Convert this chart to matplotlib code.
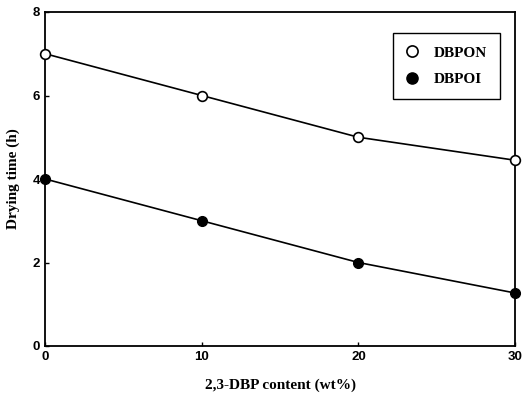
import matplotlib.pyplot as plt

# data
content = [0, 10, 20, 30]
dbpon = [7, 6, 5, 4.45]
dbpoi = [4, 3, 2, 1.27]

fig = plt.figure(figsize=(5.26, 4.0), dpi=100)
ax = fig.add_axes([0.086, 0.135, 0.893, 0.835])

ax.plot(content, dbpon, color='black', lw=1.2, marker='o', ms=7,
        mfc='white', mec='black', mew=1.2, label='DBPON', clip_on=False, zorder=3)
ax.plot(content, dbpoi, color='black', lw=1.2, marker='o', ms=7,
        mfc='black', mec='black', label='DBPOI', clip_on=False, zorder=3)

ax.set_xlim(0, 30)
ax.set_ylim(0, 8)
ax.set_xticks([0, 10, 20, 30])
ax.set_yticks([0, 2, 4, 6, 8])
ax.tick_params(direction='in', length=3, width=1, labelsize=9.5)
for lab in ax.get_xticklabels() + ax.get_yticklabels():
    lab.set_fontweight('bold')
    lab.set_family('Liberation Sans')
for s in ax.spines.values():
    s.set_linewidth(1.3)

ax.set_xlabel('2,3-DBP content (wt%)', family='Liberation Serif',
              fontweight='bold', fontsize=11, labelpad=11)
ax.set_ylabel('Drying time (h)', family='Liberation Serif',
              fontweight='bold', fontsize=11, labelpad=9)

leg = ax.legend(loc='upper right', bbox_to_anchor=(0.968, 0.937), fancybox=False,
                edgecolor='black', framealpha=1, handlelength=0.8, markerscale=1.15,
                handletextpad=1.0, borderpad=0.85, labelspacing=0.85,
                borderaxespad=0,
                prop={'family': 'Liberation Serif', 'weight': 'bold', 'size': 11})
leg.get_frame().set_linewidth(1.0)
# legend shows markers only
for h in leg.legend_handles:
    h.set_linestyle('none')

fig.savefig('out.png', dpi=100)
